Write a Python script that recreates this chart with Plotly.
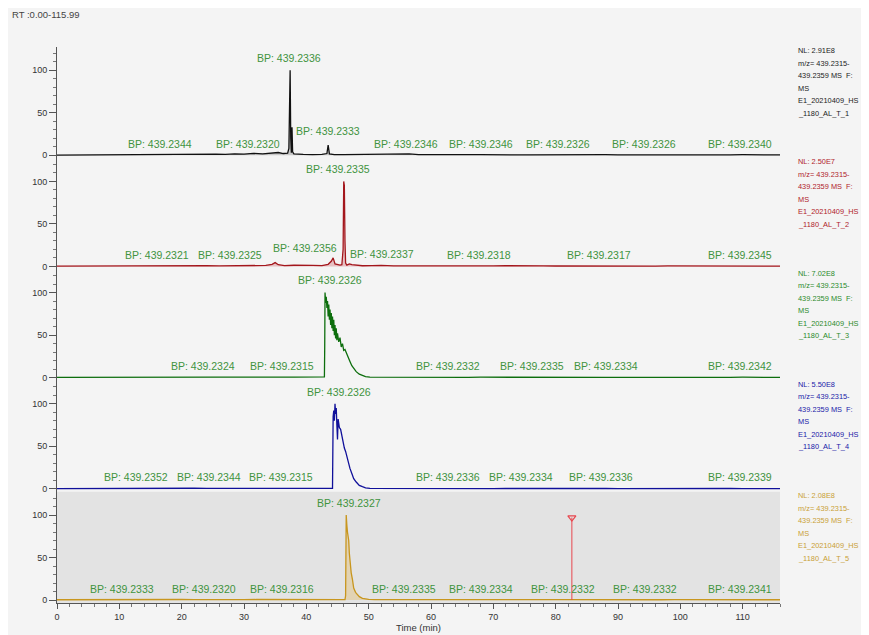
import plotly.graph_objects as go
from plotly.subplots import make_subplots

# ---------------- data ----------------
rt_title = "RT :0.00-115.99"

t1 = [0.0, 1.5, 3.0, 4.5, 6.0, 7.5, 9.0, 10.5, 12.0, 13.5, 15.0, 16.5, 18.0, 19.5, 21.0, 22.5, 24.0, 25.5, 27.0, 28.5,
      30.0, 31.5, 33.0, 34.5, 35.5, 36.3, 37.0, 37.2, 37.3, 37.4, 37.5, 37.6, 37.7, 37.8, 38.0, 38.5, 39.5, 41.0, 42.5, 43.3,
      43.5, 43.7, 44.5, 46.0, 47.5, 49.0, 51.0, 53.0, 55.0, 56.5, 58.0, 60.0, 62.0, 64.0, 66.0, 68.0, 70.0, 72.0, 74.0, 76.0,
      78.0, 80.0, 82.0, 84.0, 86.0, 88.0, 90.0, 92.0, 94.0, 96.0, 98.0, 100.0, 102.0, 104.0, 106.0, 108.0, 110.0, 112.0, 114.0, 116.0]
i1 = [0.2, 0.3, 0.2, 0.4, 0.3, 0.5, 0.4, 0.6, 0.4, 0.5, 0.7, 1.0, 0.6, 0.8, 0.7, 0.9, 1.1, 1.3, 1.0, 1.6,
      1.2, 2.2, 1.5, 2.6, 3.2, 2.0, 2.5, 8.0, 55.0, 100.0, 20.0, 3.0, 33.0, 4.0, 1.5, 1.2, 1.0, 0.8, 0.9, 2.0,
      12.0, 1.5, 0.8, 0.6, 0.7, 0.5, 0.6, 0.8, 1.2, 1.5, 0.7, 0.5, 0.6, 0.4, 0.7, 0.8, 0.5, 0.6, 0.4, 0.5,
      0.6, 0.9, 0.7, 0.5, 0.4, 0.6, 0.5, 0.4, 0.6, 0.5, 0.4, 0.5, 0.3, 0.4, 0.5, 0.4, 0.6, 0.3, 0.4, 0.3]

t2 = [0.0, 2.0, 4.0, 6.0, 8.0, 10.0, 12.0, 14.0, 16.0, 18.0, 20.0, 22.0, 24.0, 26.0, 28.0, 30.0, 32.0, 33.5, 34.5, 35.0,
      35.5, 36.5, 38.0, 39.5, 41.0, 42.5, 43.5, 44.0, 44.3, 44.6, 45.0, 45.4, 45.7, 45.9, 46.0, 46.1, 46.2, 46.3, 46.5, 46.9,
      47.3, 48.0, 49.0, 50.5, 52.0, 54.0, 56.0, 58.0, 60.0, 62.0, 64.0, 66.0, 68.0, 70.0, 72.0, 74.0, 76.0, 78.0, 80.0, 82.0,
      84.0, 86.0, 88.0, 90.0, 92.0, 94.0, 96.0, 98.0, 100.0, 102.0, 104.0, 106.0, 108.0, 110.0, 112.0, 114.0, 116.0]
i2 = [0.3, 0.4, 0.3, 0.5, 0.4, 0.6, 0.5, 0.4, 0.8, 0.5, 0.6, 0.7, 0.9, 0.6, 0.8, 1.0, 0.7, 1.2, 2.5, 4.5,
      2.0, 1.0, 1.4, 0.9, 1.2, 1.0, 2.5, 6.0, 10.0, 3.0, 2.0, 1.5, 2.0, 20.0, 100.0, 95.0, 30.0, 4.0, 1.5, 3.0,
      2.0, 1.2, 0.8, 1.0, 1.3, 0.7, 0.6, 0.8, 0.5, 0.7, 0.6, 0.9, 0.5, 0.6, 0.8, 0.5, 0.6, 0.7, 0.5, 0.4,
      0.9, 0.6, 0.5, 0.4, 0.6, 0.5, 0.4, 0.6, 0.5, 0.3, 0.4, 0.6, 0.5, 0.7, 0.4, 0.5, 0.3]

t3 = [0.0, 2.0, 4.0, 6.0, 8.0, 10.0, 12.0, 14.0, 16.0, 18.0, 20.0, 22.0, 24.0, 26.0, 28.0, 30.0, 32.0, 34.0, 36.0, 38.0,
      40.0, 41.5, 42.5, 42.9, 42.95, 43.0, 43.1, 43.2, 43.3, 43.4, 43.5, 43.6, 43.7, 43.8, 43.9, 44.0, 44.1, 44.2, 44.3, 44.4,
      44.5, 44.6, 44.7, 44.8, 44.9, 45.0, 45.2, 45.4, 45.6, 45.8, 46.0, 46.2, 46.5, 46.8, 47.0, 47.3, 47.6, 48.0, 48.5, 49.0,
      49.5, 50.2, 52.0, 54.0, 56.0, 58.0, 60.0, 62.0, 64.0, 66.0, 68.0, 70.0, 72.0, 74.0, 76.0, 78.0, 80.0, 82.0, 84.0, 86.0,
      88.0, 90.0, 92.0, 94.0, 96.0, 98.0, 100.0, 102.0, 104.0, 106.0, 108.0, 110.0, 112.0, 114.0, 116.0]
i3 = [0.2, 0.3, 0.2, 0.3, 0.4, 0.3, 0.4, 0.3, 0.5, 0.4, 0.6, 0.5, 0.8, 0.6, 0.5, 0.7, 0.6, 0.5, 0.7, 0.6,
      0.5, 0.6, 0.5, 0.8, 36.0, 100.0, 88.0, 95.0, 82.0, 90.0, 72.0, 86.0, 68.0, 80.0, 62.0, 76.0, 58.0, 72.0, 55.0, 68.0,
      50.0, 62.0, 46.0, 58.0, 44.0, 52.0, 42.0, 47.0, 36.0, 40.0, 32.0, 33.0, 27.0, 22.0, 19.0, 14.0, 11.0, 7.0, 4.0, 2.2,
      1.2, 0.6, 0.5, 0.4, 0.5, 0.3, 0.4, 0.6, 0.4, 0.3, 0.5, 0.4, 0.3, 0.4, 0.5, 0.3, 0.4, 0.3, 0.5, 0.4,
      0.3, 0.4, 0.3, 0.4, 0.3, 0.5, 0.3, 0.4, 0.3, 0.4, 0.3, 0.5, 0.3, 0.4, 0.3]

t4 = [0.0, 2.0, 4.0, 6.0, 8.0, 10.0, 12.0, 14.0, 16.0, 18.0, 20.0, 22.0, 24.0, 26.0, 28.0, 30.0, 32.0, 34.0, 36.0, 38.0,
      40.0, 42.0, 43.5, 44.2, 44.3, 44.4, 44.5, 44.6, 44.7, 44.8, 44.9, 45.0, 45.1, 45.2, 45.3, 45.5, 45.7, 45.9, 46.1, 46.3,
      46.5, 46.8, 47.0, 47.3, 47.6, 48.0, 48.5, 49.0, 49.5, 50.2, 52.0, 54.0, 56.0, 58.0, 60.0, 62.0, 64.0, 66.0, 68.0, 70.0,
      72.0, 74.0, 76.0, 78.0, 80.0, 82.0, 84.0, 86.0, 88.0, 90.0, 92.0, 94.0, 96.0, 98.0, 100.0, 102.0, 104.0, 106.0, 108.0, 110.0,
      112.0, 114.0, 116.0]
i4 = [0.3, 0.4, 0.3, 0.5, 0.4, 0.5, 0.6, 0.4, 0.5, 0.6, 0.5, 0.7, 0.5, 0.6, 0.5, 0.7, 0.6, 0.5, 0.6, 0.5,
      0.6, 0.5, 0.6, 0.5, 85.0, 92.0, 80.0, 100.0, 88.0, 95.0, 75.0, 58.0, 82.0, 78.0, 72.0, 70.0, 62.0, 55.0, 48.0, 44.0,
      38.0, 30.0, 24.0, 18.0, 12.0, 8.0, 4.0, 2.5, 1.2, 0.5, 0.4, 0.5, 0.3, 0.4, 0.5, 0.4, 0.3, 0.5, 0.4, 0.3,
      0.4, 0.5, 0.3, 0.4, 0.3, 0.4, 0.5, 0.3, 0.4, 0.3, 0.4, 0.3, 0.5, 0.3, 0.4, 0.3, 0.4, 0.3, 0.4, 0.3,
      0.4, 0.3, 0.3]

t5 = [0.0, 2.0, 4.0, 6.0, 8.0, 10.0, 12.0, 14.0, 16.0, 18.0, 20.0, 22.0, 24.0, 26.0, 28.0, 30.0, 32.0, 34.0, 36.0, 38.0,
      40.0, 42.0, 44.0, 45.5, 46.2, 46.3, 46.4, 46.5, 46.6, 46.7, 46.8, 46.9, 47.0, 47.2, 47.4, 47.6, 47.9, 48.2, 48.5, 49.0,
      50.0, 51.0, 53.0, 55.0, 57.0, 59.0, 61.0, 63.0, 65.0, 67.0, 69.0, 71.0, 73.0, 75.0, 77.0, 79.0, 81.0, 83.0, 85.0, 87.0,
      89.0, 91.0, 93.0, 95.0, 97.0, 99.0, 101.0, 103.0, 105.0, 107.0, 109.0, 111.0, 113.0, 115.0, 116.0]
i5 = [0.3, 0.4, 0.3, 0.4, 0.5, 0.4, 0.3, 0.4, 0.5, 0.4, 0.6, 0.5, 0.7, 0.9, 0.6, 0.5, 0.6, 0.5, 0.4, 0.5,
      0.6, 0.5, 0.6, 0.5, 0.5, 5.0, 100.0, 88.0, 80.0, 76.0, 70.0, 55.0, 45.0, 32.0, 24.0, 14.0, 9.0, 6.0, 4.0, 2.0,
      0.8, 0.5, 0.7, 0.6, 0.5, 0.4, 0.5, 0.4, 0.6, 0.5, 0.4, 0.5, 0.4, 0.3, 0.4, 0.5, 0.4, 0.3, 0.4, 0.5,
      0.7, 0.4, 0.3, 0.4, 0.3, 0.4, 0.3, 0.4, 0.3, 0.4, 0.3, 0.4, 0.3, 0.4, 0.3]

marker_time = [82.6]
marker_level = [97.0]

# BP labels per panel: texts, retention times, heights
bp_text_1 = ["BP: 439.2344", "BP: 439.2320", "BP: 439.2336", "BP: 439.2333", "BP: 439.2346", "BP: 439.2346", "BP: 439.2326", "BP: 439.2326", "BP: 439.2340"]
bp_time_1 = [16.5, 30.7, 37.2, 43.5, 56.0, 68.1, 80.4, 94.1, 109.6]
bp_h_1 = [4, 4, 105, 19, 4, 4, 4, 4, 4]

bp_text_2 = ["BP: 439.2321", "BP: 439.2325", "BP: 439.2356", "BP: 439.2335", "BP: 439.2337", "BP: 439.2318", "BP: 439.2317", "BP: 439.2345"]
bp_time_2 = [16.1, 27.8, 39.8, 45.1, 52.2, 67.7, 87.0, 109.5]
bp_h_2 = [4, 4, 12, 105, 5, 4, 4, 4]

bp_text_3 = ["BP: 439.2324", "BP: 439.2315", "BP: 439.2326", "BP: 439.2332", "BP: 439.2335", "BP: 439.2334", "BP: 439.2342"]
bp_time_3 = [23.4, 36.1, 43.8, 62.8, 76.2, 88.0, 109.5]
bp_h_3 = [4, 4, 105, 4, 4, 4, 4]

bp_text_4 = ["BP: 439.2352", "BP: 439.2344", "BP: 439.2315", "BP: 439.2326", "BP: 439.2336", "BP: 439.2334", "BP: 439.2336", "BP: 439.2339"]
bp_time_4 = [12.7, 24.4, 36.0, 45.3, 62.8, 74.5, 87.3, 109.5]
bp_h_4 = [4, 4, 4, 105, 4, 4, 4, 4]

bp_text_5 = ["BP: 439.2333", "BP: 439.2320", "BP: 439.2316", "BP: 439.2327", "BP: 439.2335", "BP: 439.2334", "BP: 439.2332", "BP: 439.2332", "BP: 439.2341"]
bp_time_5 = [10.4, 23.6, 36.1, 46.9, 55.7, 68.1, 81.1, 94.4, 109.5]
bp_h_5 = [4, 4, 4, 105, 4, 4, 4, 4, 4]

nl_values = ["NL: 2.91E8", "NL: 2.50E7", "NL: 7.02E8", "NL: 5.50E8", "NL: 2.08E8"]
file_suffix = ["_1180_AL_T_1", "_1180_AL_T_2", "_1180_AL_T_3", "_1180_AL_T_4", "_1180_AL_T_5"]
mz_line1 = "m/z= 439.2315-"
mz_line2 = "439.2359 MS  F:"
ms_line = "MS"
file_prefix = "E1_20210409_HS"

x_ticks = [0, 10, 20, 30, 40, 50, 60, 70, 80, 90, 100, 110]
y_ticks = [0, 50, 100]

# ---------------- styling ----------------
trace_colors = ["#111111", "#a3161c", "#0d6e0d", "#10109a", "#c8961e"]
text_colors = ["#222222", "#b0222a", "#2a8a2a", "#2020a8", "#c9a035"]
fill_colors = ["rgba(120,120,120,0.35)", "rgba(215,130,135,0.45)", "rgba(0,0,0,0)", "rgba(0,0,0,0)", "rgba(225,190,120,0.45)"]
label_color = "#3f9340"
bg = "#f4f4f4"

OFF = 8  # page body margin in the browser
W, H = 869 - OFF, 635 - OFF
ML, MT = 57 - OFF, 47 - OFF
MR = W - (780 - OFF)
MB = H - (603 - OFF)
plot_w = W - ML - MR
plot_h = H - MT - MB

fig = make_subplots(rows=5, cols=1, shared_xaxes=True, vertical_spacing=0)

series = [(t1, i1), (t2, i2), (t3, i3), (t4, i4), (t5, i5)]
for k, (tt, ii) in enumerate(series):
    fig.add_trace(go.Scatter(x=tt, y=ii, mode="lines",
                             line=dict(color=trace_colors[k], width=1.3),
                             fill="tozeroy" if k in (0, 1, 4) else None,
                             fillcolor=fill_colors[k],
                             hoverinfo="skip", showlegend=False), row=k + 1, col=1)

# red marker line in last panel
fig.add_trace(go.Scatter(x=[marker_time[0], marker_time[0]], y=[0, marker_level[0]], mode="lines",
                         line=dict(color="#e8474f", width=1), showlegend=False, hoverinfo="skip"), row=5, col=1)
fig.add_trace(go.Scatter(x=marker_time, y=marker_level, mode="markers",
                         marker=dict(symbol="triangle-down-open", size=7, color="#e8474f", line=dict(width=1.2)),
                         showlegend=False, hoverinfo="skip"), row=5, col=1)

# shaded background of active (last) panel
fig.add_shape(type="rect", xref="x5 domain", yref="y5 domain", x0=0, x1=1, y0=0, y1=1,
              fillcolor="#e3e3e3", line=dict(width=0), layer="below")

font_main = "Liberation Sans, Arial, sans-serif"

for r in range(1, 6):
    fig.update_yaxes(range=[-3.5, 127.3], tickvals=y_ticks, ticks="outside", ticklen=7, tickcolor="#555",
                     showline=True, linecolor="#555", linewidth=1, showgrid=False, zeroline=False,
                     tickfont=dict(family=font_main, size=9, color="#333"), automargin=False,
                     minor=dict(dtick=10, ticks="outside", ticklen=3, tickcolor="#777"),
                     row=r, col=1)
    fig.update_xaxes(range=[0, 115.99], showgrid=False, zeroline=False, row=r, col=1, automargin=False,
                     showline=(r == 5), linecolor="#555")

fig.update_xaxes(tickvals=x_ticks, ticks="outside", ticklen=5, tickcolor="#555",
                 minor=dict(dtick=2, ticks="outside", ticklen=3, tickcolor="#777"),
                 tickfont=dict(family=font_main, size=9, color="#333"),
                 title=dict(text="Time (min)", font=dict(family=font_main, size=9.5, color="#333"), standoff=1),
                 showticklabels=True, row=5, col=1)

annotations = []
bp_sets = [(bp_text_1, bp_time_1, bp_h_1), (bp_text_2, bp_time_2, bp_h_2), (bp_text_3, bp_time_3, bp_h_3),
           (bp_text_4, bp_time_4, bp_h_4), (bp_text_5, bp_time_5, bp_h_5)]
for k, (txts, tms, hs) in enumerate(bp_sets):
    ax = "x" if k == 0 else f"x{k + 1}"
    ay = "y" if k == 0 else f"y{k + 1}"
    for txt, tm, h in zip(txts, tms, hs):
        annotations.append(dict(text=txt, x=tm, y=h, xref=ax, yref=ay, showarrow=False,
                                xanchor="center", yanchor="bottom",
                                font=dict(family=font_main, size=10.5, color=label_color)))

row_h = plot_h / 5
for k in range(5):
    lines = [nl_values[k], mz_line1, mz_line2, ms_line, file_prefix, file_suffix[k]]
    top = 50.7 - OFF + row_h * k
    for j, ln in enumerate(lines):
        ypix = top + 12.5 * j
        annotations.append(dict(text=ln, xref="paper", yref="paper",
                                x=(796 - OFF - ML) / plot_w, y=1 - (ypix - MT) / plot_h,
                                xanchor="left", yanchor="middle", showarrow=False,
                                font=dict(family=font_main, size=7.4, color=text_colors[k])))

annotations.append(dict(text=rt_title, xref="paper", yref="paper", x=(10 - OFF - ML) / plot_w,
                        y=1 + (MT - (15 - OFF)) / plot_h,
                        xanchor="left", yanchor="middle", showarrow=False,
                        font=dict(family=font_main, size=9.5, color="#444")))

fig.update_layout(width=W, height=H, margin=dict(l=ML, r=MR, t=MT, b=MB),
                  paper_bgcolor=bg, plot_bgcolor=bg, annotations=annotations, showlegend=False)

fig.write_html("out.html")
